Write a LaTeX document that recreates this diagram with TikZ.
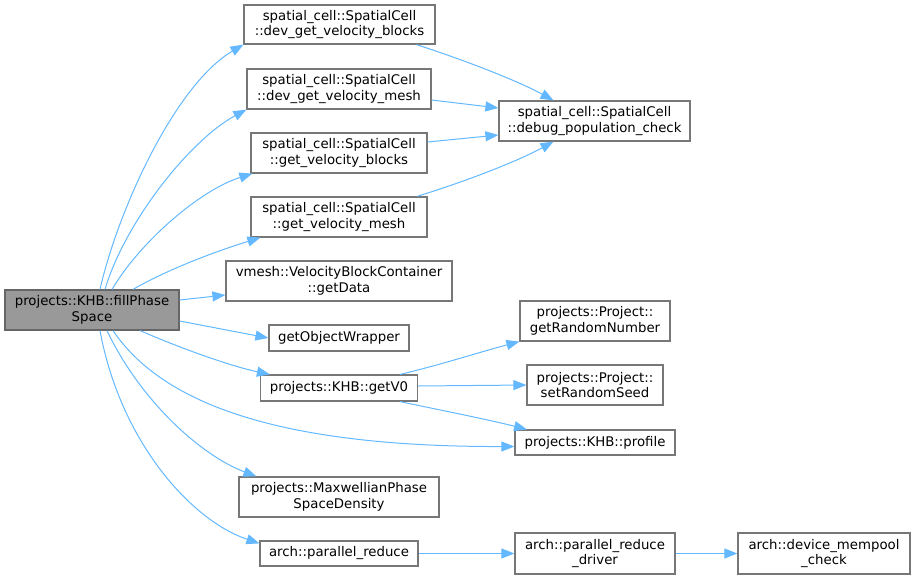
\documentclass[tikz,border=0pt]{standalone}
\usepackage{fontspec}
\setmainfont{DejaVu Sans}
\usetikzlibrary{arrows.meta}
\definecolor{edgec}{HTML}{63B8FF}
\definecolor{boxc}{HTML}{777777}
\definecolor{rootfill}{HTML}{999999}
\definecolor{rootline}{HTML}{666666}
\begin{document}
\begin{tikzpicture}[x=1pt,y=-1pt,
  box/.style={draw=boxc,line width=1.2pt,fill=white,inner sep=0pt,align=center,
    font=\fontsize{13.3}{15.6}\selectfont},
  root/.style={box,fill=rootfill,draw=rootline},
  edge/.style={draw=edgec,line width=1pt,-{Triangle[length=13pt,width=10pt]}}]
\useasboundingbox (0,0) rectangle (915,579);
% nodes
\node[root,minimum width=174,minimum height=40] (fill) at (92,310) {projects::KHB::fillPhase\\Space};
\node[box,minimum width=191,minimum height=39] (devblocks) at (339.5,24.5) {spatial\_cell::SpatialCell\\::dev\_get\_velocity\_blocks};
\node[box,minimum width=184,minimum height=40] (devmesh) at (339,89) {spatial\_cell::SpatialCell\\::dev\_get\_velocity\_mesh};
\node[box,minimum width=176,minimum height=40] (getblocks) at (339,153) {spatial\_cell::SpatialCell\\::get\_velocity\_blocks};
\node[box,minimum width=176,minimum height=40] (getmesh) at (339,217) {spatial\_cell::SpatialCell\\::get\_velocity\_mesh};
\node[box,minimum width=191,minimum height=40] (debug) at (594.5,121) {spatial\_cell::SpatialCell\\::debug\_population\_check};
\node[box,minimum width=226,minimum height=40] (getData) at (339,281) {vmesh::VelocityBlockContainer\\::getData};
\node[box,minimum width=140,minimum height=26] (wrapper) at (339,338) {getObjectWrapper};
\node[box,minimum width=157,minimum height=26] (getV0) at (339,388) {projects::KHB::getV0};
\node[box,minimum width=150,minimum height=40] (randnum) at (595,321) {projects::Project::\\getRandomNumber};
\node[box,minimum width=136,minimum height=40] (randseed) at (595,385) {projects::Project::\\setRandomSeed};
\node[box,minimum width=160,minimum height=25] (profile) at (595,442.5) {projects::KHB::profile};
\node[box,minimum width=200,minimum height=40] (maxw) at (339,497) {projects::MaxwellianPhase\\SpaceDensity};
\node[box,minimum width=158,minimum height=25] (preduce) at (339,553.5) {arch::parallel\_reduce};
\node[box,minimum width=160,minimum height=41] (driver) at (595,553.5) {arch::parallel\_reduce\\\_driver};
\node[box,minimum width=172,minimum height=41] (mempool) at (824,553.5) {arch::device\_mempool\\\_check};
% edges from root
\draw[edge] ([xshift=8]fill.north) .. controls (118,210) and (175,85) .. (devblocks.south west);
\draw[edge] ([xshift=13]fill.north) .. controls (125,222) and (190,140) .. (devmesh.south west);
\draw[edge] ([xshift=20]fill.north) .. controls (140,242) and (200,190) .. ([xshift=2]getblocks.south west);
\draw[edge] ([xshift=41]fill.north) .. controls (170,268) and (220,250) .. ([xshift=10]getmesh.south west);
\draw[edge] ([yshift=10]fill.east) -- ([yshift=-14]getData.west);
\draw[edge] ([yshift=-11]fill.east) -- (wrapper.west);
\draw[edge] ([xshift=48]fill.south) .. controls (180,348) and (230,366) .. ([xshift=10]getV0.north west);
\draw[edge] ([xshift=21]fill.south) .. controls (160,400) and (270,447) .. ([yshift=-4]profile.west);
\draw[edge] ([xshift=15]fill.south) .. controls (140,400) and (200,455) .. ([xshift=18]maxw.north west);
\draw[edge] ([xshift=8]fill.south) .. controls (120,440) and (190,520) .. ([yshift=-3]preduce.north west);
% second level
\draw[edge] ([xshift=77]devblocks.south) .. controls (470,62) and (520,82) .. ([xshift=-41]debug.north);
\draw[edge] ([yshift=-11]devmesh.east) -- ([yshift=13]debug.west);
\draw[edge] ([yshift=11]getblocks.east) -- ([yshift=-14]debug.west);
\draw[edge] ([xshift=78]getmesh.north) .. controls (470,180) and (520,160) .. ([xshift=-41]debug.south);
\draw[edge] ([xshift=61]getV0.north) .. controls (440,365) and (480,352) .. (randnum.south west);
\draw[edge] ([yshift=2]getV0.east) -- (randseed.west);
\draw[edge] ([xshift=61]getV0.south) .. controls (440,410) and (490,420) .. ([xshift=-68]profile.north);
\draw[edge] (preduce.east) -- (driver.west);
\draw[edge] (driver.east) -- (mempool.west);
\end{tikzpicture}
\end{document}
